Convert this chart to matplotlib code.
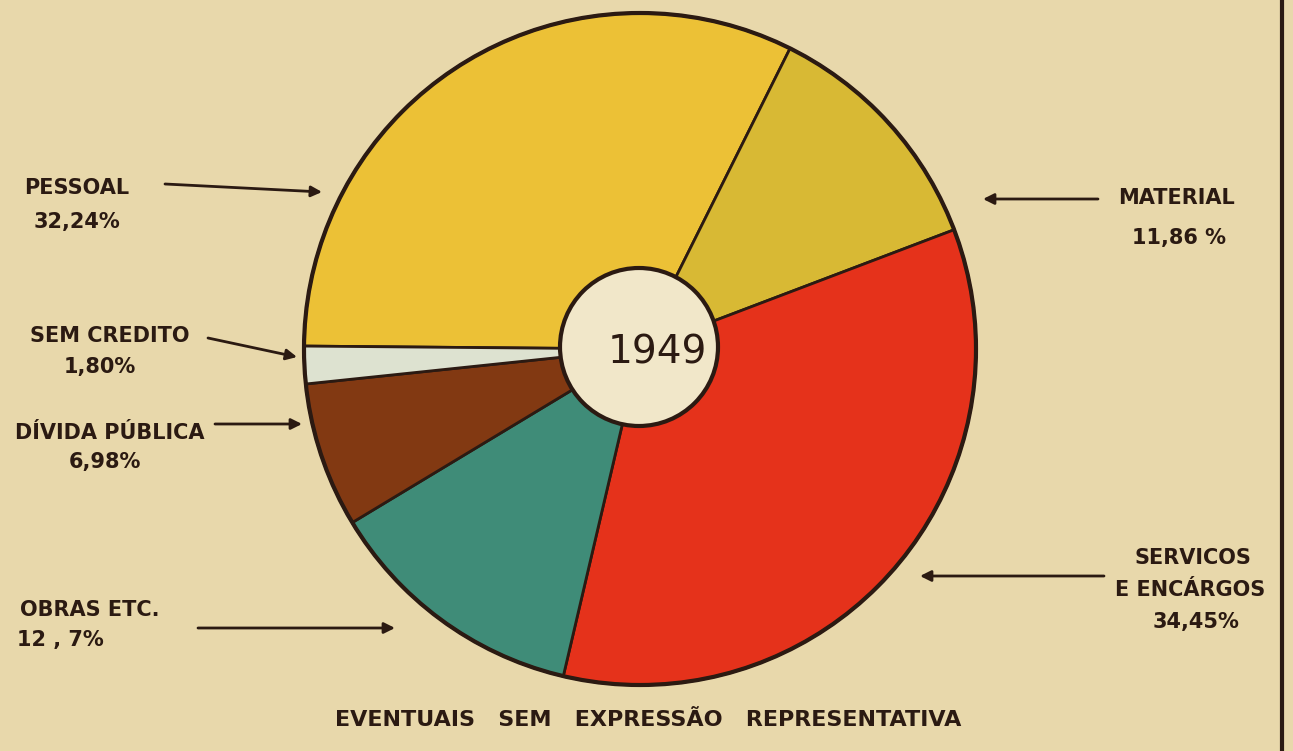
import matplotlib.pyplot as plt
import matplotlib.patches as patches

categories = ['PESSOAL', 'MATERIAL', 'SERVICOS E ENCARGOS', 'OBRAS ETC.', 'DÍVIDA PÚBLICA', 'SEM CREDITO']
shares = [32.24, 11.86, 34.45, 12.7, 6.98, 1.80]
share_labels = ['32,24%', '11,86 %', '34,45%', '12 , 7%', '6,98%', '1,80%']
year = '1949'
footnote = 'EVENTUAIS   SEM   EXPRESSÃO   REPRESENTATIVA'

colors = ['#ecc136', '#d8b934', '#e5321b', '#3f8c78', '#823912', '#dde2d0']
bg = '#e8d8ab'
ink = '#2b1a12'

W, H = 1293, 751
fig = plt.figure(figsize=(W / 100, H / 100), dpi=100)
fig.patch.set_facecolor(bg)
ax = fig.add_axes([0, 0, 1, 1])
ax.set_xlim(0, W)
ax.set_ylim(0, H)
ax.set_aspect('equal')
ax.axis('off')

cx, cy, r = 640, H - 349, 336
wedges, _ = ax.pie(shares, colors=colors, startangle=179.5, counterclock=False,
                   center=(cx, cy), radius=r, frame=True,
                   wedgeprops=dict(edgecolor=ink, linewidth=2))
ax.set_xlim(0, W)
ax.set_ylim(0, H)
ax.axis('off')
ax.add_patch(patches.Circle((cx, cy), r, fill=False, edgecolor=ink, linewidth=3, zorder=3))
ax.add_patch(patches.Circle((639, H - 347), 79, facecolor='#f1e7c9', edgecolor=ink,
                            linewidth=3, zorder=4))
ax.text(657, H - 352, year, fontsize=28, color=ink, ha='center', va='center',
        family='DejaVu Sans', zorder=5)

font = dict(family='DejaVu Sans', fontweight='bold', color=ink, fontsize=15)
arrow = dict(arrowstyle='-|>', color=ink, lw=2, mutation_scale=16, shrinkA=0, shrinkB=0)

def label(lines):
    for (txt, x, y) in lines:
        ax.text(x, H - y, txt, ha='center', va='center', **font)

def pointer(start, end):
    ax.annotate('', xy=(end[0], H - end[1]), xytext=(start[0], H - start[1]),
                arrowprops=arrow)

# left side
label([(categories[0], 77, 188), (share_labels[0], 77, 222)])
pointer((165, 184), (322, 192))
label([(categories[5], 110, 336), (share_labels[5], 100, 367)])
pointer((208, 338), (297, 357))
label([(categories[4], 110, 433), (share_labels[4], 105, 462)])
pointer((215, 424), (302, 424))
label([(categories[3], 90, 610), (share_labels[3], 60, 640)])
pointer((198, 628), (395, 628))

# right side
label([(categories[1], 1177, 198), (share_labels[1], 1179, 238)])
pointer((1098, 199), (983, 199))
label([('SERVICOS', 1193, 558), ('E ENCÁRGOS', 1190, 590), (share_labels[2], 1196, 622)])
pointer((1104, 576), (920, 576))

ax.text(648, H - 720, footnote, ha='center', va='center', family='DejaVu Sans',
        fontweight='bold', color=ink, fontsize=16)

ax.plot([1282, 1282], [0, H], color=ink, lw=3)

fig.savefig('out.png', dpi=100, facecolor=bg)
